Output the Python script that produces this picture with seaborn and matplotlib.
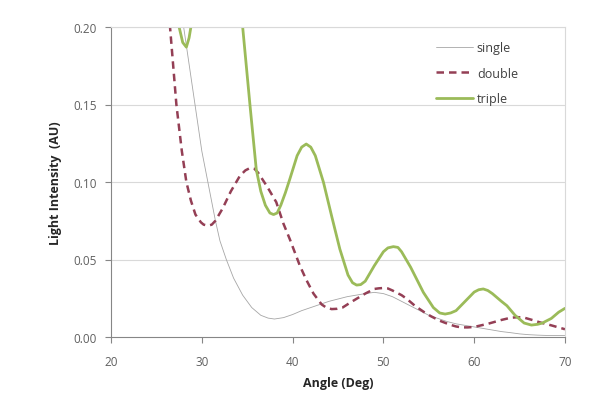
import numpy as np
import pandas as pd
import matplotlib
matplotlib.use("Agg")
import matplotlib.pyplot as plt
import seaborn as sns

single_x = [27.0, 28.0, 28.5, 29.25, 30.0, 30.4, 31.0, 31.5, 32.0, 32.7, 33.5, 34.5, 35.5, 36.5, 37.3, 38.0, 39.0, 40.0,
            41.0, 42.0, 43.0, 44.0, 45.0, 46.0, 47.0, 48.0, 49.0, 50.0, 51.0, 52.0, 53.0, 54.0, 55.0, 56.0, 57.0,
            58.0, 59.0, 60.0, 61.0, 62.0, 63.0, 64.0, 65.0, 66.0, 67.0, 68.0, 70.0]
single_y = [0.26, 0.20, 0.18, 0.15, 0.12, 0.108, 0.09, 0.075, 0.062, 0.05, 0.038, 0.027, 0.019, 0.014, 0.0122, 0.0116,
            0.0125, 0.0145, 0.017, 0.019, 0.021, 0.023, 0.0245, 0.026, 0.027, 0.028, 0.0288, 0.028, 0.026, 0.023,
            0.020, 0.017, 0.014, 0.012, 0.010, 0.0085, 0.0075, 0.0065, 0.0055, 0.0045, 0.0035, 0.0028, 0.002,
            0.0015, 0.0012, 0.001, 0.001]

double_x = [26.0, 26.5, 27.2, 27.8, 28.3, 28.8, 29.3, 29.9, 30.2, 30.7, 31.1, 31.5, 32.3, 33.2, 34.2, 34.8, 35.3, 35.8,
            36.2, 37.2, 38.2, 39.0, 39.7, 40.8, 41.5, 42.3, 43.2, 43.7, 44.3, 44.9, 45.5, 46.3, 47.0, 48.0, 49.0,
            49.5, 50.0, 50.5, 51.0, 52.0, 52.6, 53.5, 54.5, 55.2, 56.2, 57.3, 58.0, 58.6, 59.3, 60.0, 61.5, 63.0,
            64.0, 64.8, 65.5, 66.5, 67.2, 68.5, 70.0]
double_y = [0.24, 0.20, 0.15, 0.12, 0.10, 0.088, 0.079, 0.074, 0.0725, 0.0718, 0.0725, 0.075, 0.083, 0.094, 0.104,
            0.1075, 0.109, 0.1085, 0.106, 0.097, 0.087, 0.073, 0.063, 0.046, 0.037, 0.028, 0.021, 0.019, 0.018,
            0.0182, 0.019, 0.022, 0.0245, 0.028, 0.031, 0.0314, 0.0316, 0.0313, 0.030, 0.027, 0.0245, 0.020, 0.016,
            0.0135, 0.0105, 0.008, 0.0068, 0.0062, 0.0062, 0.0065, 0.0085, 0.011, 0.0124, 0.0128, 0.0125, 0.0108,
            0.0095, 0.0075, 0.005]

triple_x = [27.0, 27.5, 27.9, 28.3, 28.6, 28.8, 29.5, 31.0, 33.0, 34.0, 34.5, 35.3, 36.0, 36.5, 37.0, 37.5, 37.9, 38.3,
            38.7, 39.2, 39.7, 40.5, 41.0, 41.5, 42.0, 42.5, 43.4, 44.3, 45.2, 46.1, 46.6, 47.05, 47.5, 48.0, 49.0,
            50.0, 50.5, 51.1, 51.6, 52.0, 53.0, 54.4, 55.5, 56.2, 56.8, 57.4, 58.0, 59.0, 60.0, 60.5, 61.0, 61.5,
            62.0, 63.0, 63.6, 64.5, 65.5, 66.3, 67.0, 67.5, 68.5, 69.3, 70.0]
triple_y = [0.23, 0.20, 0.19, 0.187, 0.193, 0.20, 0.24, 0.28, 0.26, 0.22, 0.20, 0.15, 0.108, 0.094, 0.085, 0.080, 0.079,
            0.080, 0.085, 0.093, 0.102, 0.117, 0.1225, 0.1245, 0.1225, 0.117, 0.0998, 0.078, 0.0568, 0.040, 0.035,
            0.0335, 0.0338, 0.036, 0.046, 0.055, 0.0575, 0.0583, 0.0578, 0.055, 0.045, 0.0288, 0.019, 0.0155,
            0.0148, 0.0155, 0.017, 0.023, 0.029, 0.0305, 0.031, 0.030, 0.028, 0.023, 0.0202, 0.014, 0.009, 0.0077,
            0.0082, 0.009, 0.012, 0.016, 0.0185]

x_ticks = [20, 30, 40, 50, 60, 70]
y_ticks = [0.00, 0.05, 0.10, 0.15, 0.20]

sns.set_style("white")
plt.rcParams['font.family'] = ['Open Sans', 'DejaVu Sans']

fig = plt.figure(figsize=(6.03, 4.14), dpi=100)
ax = fig.add_axes([111/603, 1 - 338/414, (565-111)/603, (338-28)/414])

grid_c = '#d9d9d9'
for yv in y_ticks[1:]:
    ax.axhline(yv, color=grid_c, lw=0.8, zorder=0)

sns.lineplot(x=single_x, y=single_y, ax=ax, color='#a6a6a6', lw=0.6, label='single', sort=False)
sns.lineplot(x=double_x, y=double_y, ax=ax, color='#943f55', lw=1.8, label='double', sort=False,
             linestyle=(0, (3, 2)))
sns.lineplot(x=triple_x, y=triple_y, ax=ax, color='#9bbb59', lw=2.0, label='triple', sort=False)

ax.set_xlim(20, 70)
ax.set_ylim(0, 0.20)
ax.set_xticks(x_ticks)
ax.set_yticks(y_ticks)
ax.set_xticklabels([str(v) for v in x_ticks])
ax.set_yticklabels([f"{v:.2f}" for v in y_ticks])
ax.tick_params(axis='both', labelsize=8.5, labelcolor='#606060', color='#868686', length=4, width=0.8,
               direction='out', bottom=True, left=True)
ax.tick_params(axis='x', pad=9)
ax.tick_params(axis='y', pad=6)

for s in ['left', 'bottom']:
    ax.spines[s].set_color('#868686')
    ax.spines[s].set_linewidth(0.8)
for s in ['top', 'right']:
    ax.spines[s].set_color(grid_c)
    ax.spines[s].set_linewidth(0.8)

ax.set_xlabel('Angle (Deg)', fontsize=9, fontweight='bold', color='#262626', labelpad=6)
ax.set_ylabel('Light Intensity  (AU)', fontsize=9, fontweight='bold', color='#262626', labelpad=8)

leg = ax.legend(loc='upper left', bbox_to_anchor=(0.69, 0.99), frameon=False, fontsize=9,
                handlelength=3.0, handletextpad=0.3, labelspacing=1.0, labelcolor='#404040')

fig.savefig('out.png', dpi=100)
